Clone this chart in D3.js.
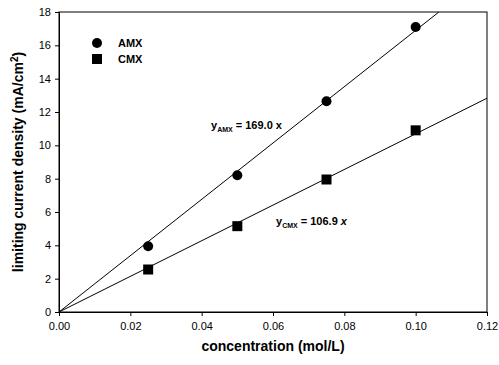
<!DOCTYPE html>
<html>
<head>
<meta charset="utf-8">
<script src="https://cdn.jsdelivr.net/npm/d3@7"></script>
<style>
  body { margin: 0; background: #fff; }
  svg { font-family: "Liberation Sans", Arial, sans-serif; }
</style>
</head>
<body>
<svg id="chart" width="499" height="365"></svg>
<script>
// concentration (mol/L)
const conc = [0.025, 0.05, 0.075, 0.1];
// limiting current density (mA/cm2)
const amx = [3.95, 8.2, 12.65, 17.1];
const cmx = [2.55, 5.15, 7.95, 10.9];
// fitted slopes
const slopeAmx = 169.0;
const slopeCmx = 106.9;
const xTicks = [0, 0.02, 0.04, 0.06, 0.08, 0.10, 0.12];
const yTicks = [0, 2, 4, 6, 8, 10, 12, 14, 16, 18];

const margin = { top: 12, right: 12, bottom: 53, left: 59 };
const svg = d3.select('#chart');
const W = +svg.attr('width'), H = +svg.attr('height');
const w = W - margin.left - margin.right;
const h = H - margin.top - margin.bottom;

const x = d3.scaleLinear().domain([0, 0.12]).range([0, w]);
const y = d3.scaleLinear().domain([0, 18]).range([h, 0]);

const g = svg.append('g').attr('transform', `translate(${margin.left},${margin.top})`);

// clip for fitted lines
g.append('clipPath').attr('id', 'plot').append('rect').attr('width', w).attr('height', h);

// frame
g.append('rect').attr('width', w).attr('height', h)
  .attr('fill', 'none').attr('stroke', '#000').attr('stroke-width', 1);

const xAxis = g.append('g').attr('transform', `translate(0,${h})`)
  .call(d3.axisBottom(x).tickValues(xTicks).tickFormat(d3.format('.2f')).tickSize(4).tickPadding(6));
const yAxis = g.append('g')
  .call(d3.axisLeft(y).tickValues(yTicks).tickSize(4).tickPadding(4));
[xAxis, yAxis].forEach(a => {
  a.select('.domain').attr('stroke', '#000');
  a.selectAll('text').attr('font-size', 11).attr('fill', '#000')
    .attr('font-family', '"Liberation Sans", Arial, sans-serif');
});

// fitted lines
const fit = (slope) => {
  const xmax = Math.min(0.12, 18 / slope);
  return [[0, 0], [xmax, slope * xmax]];
};
const line = d3.line().x(d => x(d[0])).y(d => y(d[1]));
g.append('path').datum(fit(slopeAmx)).attr('d', line)
  .attr('fill', 'none').attr('stroke', '#000').attr('stroke-width', 1).attr('clip-path', 'url(#plot)');
g.append('path').datum(fit(slopeCmx)).attr('d', line)
  .attr('fill', 'none').attr('stroke', '#000').attr('stroke-width', 1).attr('clip-path', 'url(#plot)');

// markers
g.selectAll('.amx').data(conc).enter().append('circle')
  .attr('cx', d => x(d)).attr('cy', (d, i) => y(amx[i])).attr('r', 5).attr('fill', '#000');
g.selectAll('.cmx').data(conc).enter().append('rect')
  .attr('x', d => x(d) - 5).attr('y', (d, i) => y(cmx[i]) - 5)
  .attr('width', 10).attr('height', 10).attr('fill', '#000');

// legend
const leg = g.append('g').attr('font-size', 11).attr('font-weight', 'bold');
leg.append('circle').attr('cx', 38).attr('cy', 31).attr('r', 5).attr('fill', '#000');
leg.append('text').attr('x', 59).attr('y', 35).text('AMX');
leg.append('rect').attr('x', 33).attr('y', 42).attr('width', 10).attr('height', 10).attr('fill', '#000');
leg.append('text').attr('x', 59).attr('y', 51).text('CMX');

// equations
const eq1 = g.append('text').attr('x', 152).attr('y', 117).attr('font-size', 11).attr('font-weight', 'bold');
eq1.append('tspan').text('y');
eq1.append('tspan').attr('font-size', 7).attr('dy', 3).text('AMX');
eq1.append('tspan').attr('dy', -3).text(' = 169.0 x');
const eq2 = g.append('text').attr('x', 217).attr('y', 213).attr('font-size', 11).attr('font-weight', 'bold');
eq2.append('tspan').text('y');
eq2.append('tspan').attr('font-size', 7).attr('dy', 3).text('CMX');
eq2.append('tspan').attr('dy', -3).text(' = 106.9 ');
eq2.append('tspan').attr('font-style', 'italic').text('x');

// axis titles
svg.append('text').attr('x', margin.left + w / 2).attr('y', 351)
  .attr('text-anchor', 'middle').attr('font-size', 14).attr('font-weight', 'bold')
  .text('concentration (mol/L)');
const yt = svg.append('text')
  .attr('transform', `translate(23,${margin.top + h / 2}) rotate(-90)`)
  .attr('text-anchor', 'middle').attr('font-size', 14).attr('font-weight', 'bold');
yt.append('tspan').text('limiting current density (mA/cm');
yt.append('tspan').attr('font-size', 10).attr('dy', -5).text('2');
yt.append('tspan').attr('dy', 5).text(')');
</script>
</body>
</html>
